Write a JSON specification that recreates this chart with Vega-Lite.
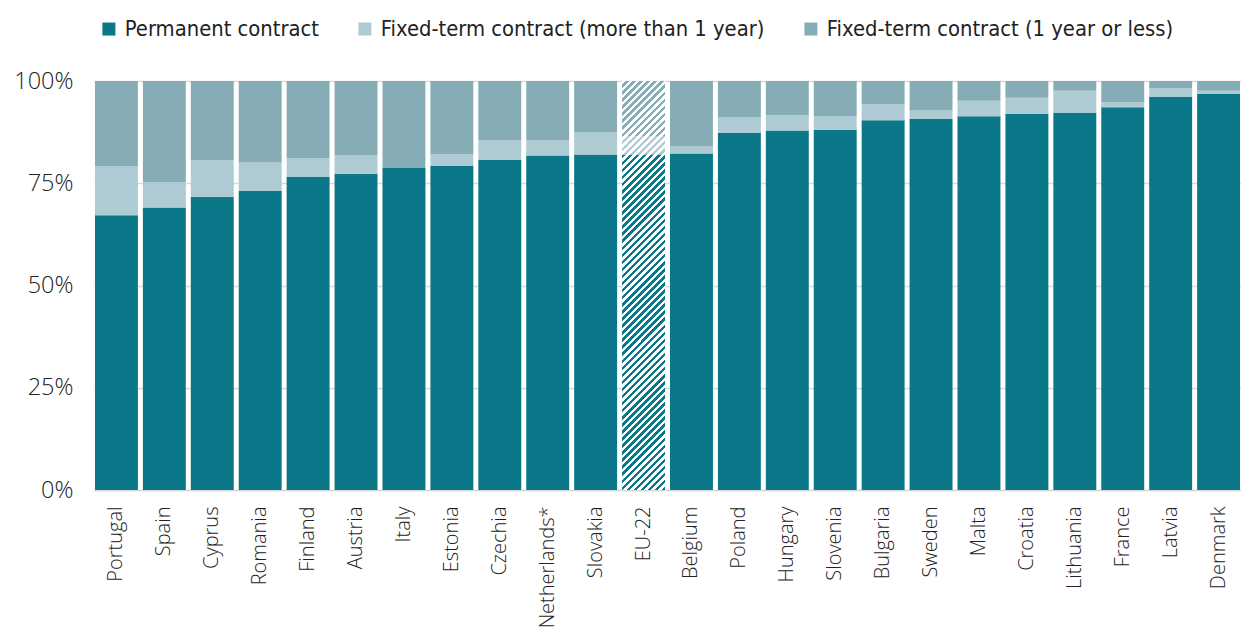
{
  "$schema": "https://vega.github.io/schema/vega-lite/v6.json",
  "width": 1147,
  "height": 409,
  "autosize": {"type": "none"},
  "padding": {"left": 94, "top": 81, "right": 0, "bottom": 140},
  "background": "#ffffff",
  "config": {
    "view": {"stroke": null},
    "font": "Open Sans"
  },
  "data": {
    "values": [
      {"country": "Portugal", "Permanent contract": 67.2, "Fixed-term contract (more than 1 year)": 12.0, "Fixed-term contract (1 year or less)": 20.8},
      {"country": "Spain", "Permanent contract": 69.1, "Fixed-term contract (more than 1 year)": 6.2, "Fixed-term contract (1 year or less)": 24.7},
      {"country": "Cyprus", "Permanent contract": 71.7, "Fixed-term contract (more than 1 year)": 8.9, "Fixed-term contract (1 year or less)": 19.4},
      {"country": "Romania", "Permanent contract": 73.1, "Fixed-term contract (more than 1 year)": 7.0, "Fixed-term contract (1 year or less)": 19.9},
      {"country": "Finland", "Permanent contract": 76.5, "Fixed-term contract (more than 1 year)": 4.6, "Fixed-term contract (1 year or less)": 18.9},
      {"country": "Austria", "Permanent contract": 77.3, "Fixed-term contract (more than 1 year)": 4.5, "Fixed-term contract (1 year or less)": 18.2},
      {"country": "Italy", "Permanent contract": 78.7, "Fixed-term contract (more than 1 year)": 0.0, "Fixed-term contract (1 year or less)": 21.3},
      {"country": "Estonia", "Permanent contract": 79.2, "Fixed-term contract (more than 1 year)": 2.9, "Fixed-term contract (1 year or less)": 17.9},
      {"country": "Czechia", "Permanent contract": 80.7, "Fixed-term contract (more than 1 year)": 4.8, "Fixed-term contract (1 year or less)": 14.5},
      {"country": "Netherlands*", "Permanent contract": 81.8, "Fixed-term contract (more than 1 year)": 3.7, "Fixed-term contract (1 year or less)": 14.5},
      {"country": "Slovakia", "Permanent contract": 82.0, "Fixed-term contract (more than 1 year)": 5.5, "Fixed-term contract (1 year or less)": 12.5},
      {"country": "EU-22", "Permanent contract": 82.0, "Fixed-term contract (more than 1 year)": 4.5, "Fixed-term contract (1 year or less)": 13.5},
      {"country": "Belgium", "Permanent contract": 82.3, "Fixed-term contract (more than 1 year)": 1.7, "Fixed-term contract (1 year or less)": 16.0},
      {"country": "Poland", "Permanent contract": 87.3, "Fixed-term contract (more than 1 year)": 3.8, "Fixed-term contract (1 year or less)": 8.9},
      {"country": "Hungary", "Permanent contract": 87.9, "Fixed-term contract (more than 1 year)": 3.7, "Fixed-term contract (1 year or less)": 8.4},
      {"country": "Slovenia", "Permanent contract": 88.0, "Fixed-term contract (more than 1 year)": 3.4, "Fixed-term contract (1 year or less)": 8.6},
      {"country": "Bulgaria", "Permanent contract": 90.4, "Fixed-term contract (more than 1 year)": 4.0, "Fixed-term contract (1 year or less)": 5.6},
      {"country": "Sweden", "Permanent contract": 90.7, "Fixed-term contract (more than 1 year)": 2.1, "Fixed-term contract (1 year or less)": 7.2},
      {"country": "Malta", "Permanent contract": 91.4, "Fixed-term contract (more than 1 year)": 3.8, "Fixed-term contract (1 year or less)": 4.8},
      {"country": "Croatia", "Permanent contract": 92.0, "Fixed-term contract (more than 1 year)": 3.9, "Fixed-term contract (1 year or less)": 4.1},
      {"country": "Lithuania", "Permanent contract": 92.2, "Fixed-term contract (more than 1 year)": 5.4, "Fixed-term contract (1 year or less)": 2.4},
      {"country": "France", "Permanent contract": 93.6, "Fixed-term contract (more than 1 year)": 1.2, "Fixed-term contract (1 year or less)": 5.2},
      {"country": "Latvia", "Permanent contract": 96.1, "Fixed-term contract (more than 1 year)": 2.2, "Fixed-term contract (1 year or less)": 1.7},
      {"country": "Denmark", "Permanent contract": 96.8, "Fixed-term contract (more than 1 year)": 0.8, "Fixed-term contract (1 year or less)": 2.4}
    ]
  },
  "transform": [
    {"fold": ["Permanent contract", "Fixed-term contract (more than 1 year)", "Fixed-term contract (1 year or less)"], "as": ["type", "value"]}
  ],
  "encoding": {
    "x": {
      "field": "country",
      "type": "nominal",
      "sort": null,
      "scale": {"paddingInner": 0.104, "paddingOuter": 0.02},
      "axis": {
        "title": null,
        "labelAngle": -90,
        "ticks": false,
        "domain": true,
        "domainColor": "#d9d9d9",
        "domainWidth": 1.5,
        "labelPadding": 16,
        "labelFont": "Open Sans",
        "labelFontWeight": 300,
        "labelFontSize": 20,
        "labelColor": "#222222"
      }
    }
  },
  "layer": [
    {
      "mark": {"type": "bar", "opacity": 1},
      "encoding": {
        "y": {
          "field": "value",
          "type": "quantitative",
          "stack": "zero",
          "scale": {"domain": [0, 100], "nice": false},
          "axis": {
            "title": null,
            "values": [0, 25, 50, 75, 100],
            "labelExpr": "datum.value + '%'",
            "domain": false,
            "ticks": false,
            "grid": true,
            "gridColor": "#d9d9d9",
            "gridWidth": 1.5,
            "labelPadding": 21,
            "labelFont": "Open Sans",
            "labelFontWeight": 300,
            "labelFontSize": 23.5,
            "labelColor": "#222222"
          }
        },
        "color": {
          "field": "type",
          "type": "nominal",
          "scale": {
            "domain": ["Permanent contract", "Fixed-term contract (more than 1 year)", "Fixed-term contract (1 year or less)"],
            "range": ["#0a7888", "#aecbd3", "#86acb6"]
          },
          "legend": {
            "title": null,
            "orient": "none",
            "legendX": 4,
            "legendY": -63,
            "direction": "horizontal",
            "columns": 3,
            "columnPadding": 35,
            "symbolType": "square",
            "symbolSize": 169,
            "symbolStrokeWidth": 0,
            "symbolOpacity": 1,
            "labelOffset": 5,
            "labelLimit": 600,
            "labelFont": "DejaVu Sans Condensed",
            "labelFontSize": 21.8,
            "labelColor": "#222222"
          }
        },
        "order": {"field": "type", "sort": "descending"}
      }
    },
    {
      "transform": [{"filter": "datum.country === 'EU-22'"}],
      "mark": {
        "type": "bar",
        "opacity": 1,
        "fill": {
          "gradient": "linear",
          "x1": 0, "y1": 0, "x2": 0.11475, "y2": 1.09293,
          "stops": [
            {"offset": 0, "color": "#ffffff"},
            {"offset": 0.00781, "color": "#ffffff"}, {"offset": 0.00781, "color": "rgba(255,255,255,0)"},
            {"offset": 0.01563, "color": "rgba(255,255,255,0)"}, {"offset": 0.01563, "color": "#ffffff"},
            {"offset": 0.02344, "color": "#ffffff"}, {"offset": 0.02344, "color": "rgba(255,255,255,0)"},
            {"offset": 0.03125, "color": "rgba(255,255,255,0)"}, {"offset": 0.03125, "color": "#ffffff"},
            {"offset": 0.03906, "color": "#ffffff"}, {"offset": 0.03906, "color": "rgba(255,255,255,0)"},
            {"offset": 0.04688, "color": "rgba(255,255,255,0)"}, {"offset": 0.04688, "color": "#ffffff"},
            {"offset": 0.05469, "color": "#ffffff"}, {"offset": 0.05469, "color": "rgba(255,255,255,0)"},
            {"offset": 0.0625, "color": "rgba(255,255,255,0)"}, {"offset": 0.0625, "color": "#ffffff"},
            {"offset": 0.07031, "color": "#ffffff"}, {"offset": 0.07031, "color": "rgba(255,255,255,0)"},
            {"offset": 0.07813, "color": "rgba(255,255,255,0)"}, {"offset": 0.07813, "color": "#ffffff"},
            {"offset": 0.08594, "color": "#ffffff"}, {"offset": 0.08594, "color": "rgba(255,255,255,0)"},
            {"offset": 0.09375, "color": "rgba(255,255,255,0)"}, {"offset": 0.09375, "color": "#ffffff"},
            {"offset": 0.10156, "color": "#ffffff"}, {"offset": 0.10156, "color": "rgba(255,255,255,0)"},
            {"offset": 0.10938, "color": "rgba(255,255,255,0)"}, {"offset": 0.10938, "color": "#ffffff"},
            {"offset": 0.11719, "color": "#ffffff"}, {"offset": 0.11719, "color": "rgba(255,255,255,0)"},
            {"offset": 0.125, "color": "rgba(255,255,255,0)"}, {"offset": 0.125, "color": "#ffffff"},
            {"offset": 0.13281, "color": "#ffffff"}, {"offset": 0.13281, "color": "rgba(255,255,255,0)"},
            {"offset": 0.14063, "color": "rgba(255,255,255,0)"}, {"offset": 0.14063, "color": "#ffffff"},
            {"offset": 0.14844, "color": "#ffffff"}, {"offset": 0.14844, "color": "rgba(255,255,255,0)"},
            {"offset": 0.15625, "color": "rgba(255,255,255,0)"}, {"offset": 0.15625, "color": "#ffffff"},
            {"offset": 0.16406, "color": "#ffffff"}, {"offset": 0.16406, "color": "rgba(255,255,255,0)"},
            {"offset": 0.17188, "color": "rgba(255,255,255,0)"}, {"offset": 0.17188, "color": "#ffffff"},
            {"offset": 0.17969, "color": "#ffffff"}, {"offset": 0.17969, "color": "rgba(255,255,255,0)"},
            {"offset": 0.1875, "color": "rgba(255,255,255,0)"}, {"offset": 0.1875, "color": "#ffffff"},
            {"offset": 0.19531, "color": "#ffffff"}, {"offset": 0.19531, "color": "rgba(255,255,255,0)"},
            {"offset": 0.20313, "color": "rgba(255,255,255,0)"}, {"offset": 0.20313, "color": "#ffffff"},
            {"offset": 0.21094, "color": "#ffffff"}, {"offset": 0.21094, "color": "rgba(255,255,255,0)"},
            {"offset": 0.21875, "color": "rgba(255,255,255,0)"}, {"offset": 0.21875, "color": "#ffffff"},
            {"offset": 0.22656, "color": "#ffffff"}, {"offset": 0.22656, "color": "rgba(255,255,255,0)"},
            {"offset": 0.23438, "color": "rgba(255,255,255,0)"}, {"offset": 0.23438, "color": "#ffffff"},
            {"offset": 0.24219, "color": "#ffffff"}, {"offset": 0.24219, "color": "rgba(255,255,255,0)"},
            {"offset": 0.25, "color": "rgba(255,255,255,0)"}, {"offset": 0.25, "color": "#ffffff"},
            {"offset": 0.25781, "color": "#ffffff"}, {"offset": 0.25781, "color": "rgba(255,255,255,0)"},
            {"offset": 0.26563, "color": "rgba(255,255,255,0)"}, {"offset": 0.26563, "color": "#ffffff"},
            {"offset": 0.27344, "color": "#ffffff"}, {"offset": 0.27344, "color": "rgba(255,255,255,0)"},
            {"offset": 0.28125, "color": "rgba(255,255,255,0)"}, {"offset": 0.28125, "color": "#ffffff"},
            {"offset": 0.28906, "color": "#ffffff"}, {"offset": 0.28906, "color": "rgba(255,255,255,0)"},
            {"offset": 0.29688, "color": "rgba(255,255,255,0)"}, {"offset": 0.29688, "color": "#ffffff"},
            {"offset": 0.30469, "color": "#ffffff"}, {"offset": 0.30469, "color": "rgba(255,255,255,0)"},
            {"offset": 0.3125, "color": "rgba(255,255,255,0)"}, {"offset": 0.3125, "color": "#ffffff"},
            {"offset": 0.32031, "color": "#ffffff"}, {"offset": 0.32031, "color": "rgba(255,255,255,0)"},
            {"offset": 0.32813, "color": "rgba(255,255,255,0)"}, {"offset": 0.32813, "color": "#ffffff"},
            {"offset": 0.33594, "color": "#ffffff"}, {"offset": 0.33594, "color": "rgba(255,255,255,0)"},
            {"offset": 0.34375, "color": "rgba(255,255,255,0)"}, {"offset": 0.34375, "color": "#ffffff"},
            {"offset": 0.35156, "color": "#ffffff"}, {"offset": 0.35156, "color": "rgba(255,255,255,0)"},
            {"offset": 0.35938, "color": "rgba(255,255,255,0)"}, {"offset": 0.35938, "color": "#ffffff"},
            {"offset": 0.36719, "color": "#ffffff"}, {"offset": 0.36719, "color": "rgba(255,255,255,0)"},
            {"offset": 0.375, "color": "rgba(255,255,255,0)"}, {"offset": 0.375, "color": "#ffffff"},
            {"offset": 0.38281, "color": "#ffffff"}, {"offset": 0.38281, "color": "rgba(255,255,255,0)"},
            {"offset": 0.39063, "color": "rgba(255,255,255,0)"}, {"offset": 0.39063, "color": "#ffffff"},
            {"offset": 0.39844, "color": "#ffffff"}, {"offset": 0.39844, "color": "rgba(255,255,255,0)"},
            {"offset": 0.40625, "color": "rgba(255,255,255,0)"}, {"offset": 0.40625, "color": "#ffffff"},
            {"offset": 0.41406, "color": "#ffffff"}, {"offset": 0.41406, "color": "rgba(255,255,255,0)"},
            {"offset": 0.42188, "color": "rgba(255,255,255,0)"}, {"offset": 0.42188, "color": "#ffffff"},
            {"offset": 0.42969, "color": "#ffffff"}, {"offset": 0.42969, "color": "rgba(255,255,255,0)"},
            {"offset": 0.4375, "color": "rgba(255,255,255,0)"}, {"offset": 0.4375, "color": "#ffffff"},
            {"offset": 0.44531, "color": "#ffffff"}, {"offset": 0.44531, "color": "rgba(255,255,255,0)"},
            {"offset": 0.45313, "color": "rgba(255,255,255,0)"}, {"offset": 0.45313, "color": "#ffffff"},
            {"offset": 0.46094, "color": "#ffffff"}, {"offset": 0.46094, "color": "rgba(255,255,255,0)"},
            {"offset": 0.46875, "color": "rgba(255,255,255,0)"}, {"offset": 0.46875, "color": "#ffffff"},
            {"offset": 0.47656, "color": "#ffffff"}, {"offset": 0.47656, "color": "rgba(255,255,255,0)"},
            {"offset": 0.48438, "color": "rgba(255,255,255,0)"}, {"offset": 0.48438, "color": "#ffffff"},
            {"offset": 0.49219, "color": "#ffffff"}, {"offset": 0.49219, "color": "rgba(255,255,255,0)"},
            {"offset": 0.5, "color": "rgba(255,255,255,0)"}, {"offset": 0.5, "color": "#ffffff"},
            {"offset": 0.50781, "color": "#ffffff"}, {"offset": 0.50781, "color": "rgba(255,255,255,0)"},
            {"offset": 0.51563, "color": "rgba(255,255,255,0)"}, {"offset": 0.51563, "color": "#ffffff"},
            {"offset": 0.52344, "color": "#ffffff"}, {"offset": 0.52344, "color": "rgba(255,255,255,0)"},
            {"offset": 0.53125, "color": "rgba(255,255,255,0)"}, {"offset": 0.53125, "color": "#ffffff"},
            {"offset": 0.53906, "color": "#ffffff"}, {"offset": 0.53906, "color": "rgba(255,255,255,0)"},
            {"offset": 0.54688, "color": "rgba(255,255,255,0)"}, {"offset": 0.54688, "color": "#ffffff"},
            {"offset": 0.55469, "color": "#ffffff"}, {"offset": 0.55469, "color": "rgba(255,255,255,0)"},
            {"offset": 0.5625, "color": "rgba(255,255,255,0)"}, {"offset": 0.5625, "color": "#ffffff"},
            {"offset": 0.57031, "color": "#ffffff"}, {"offset": 0.57031, "color": "rgba(255,255,255,0)"},
            {"offset": 0.57813, "color": "rgba(255,255,255,0)"}, {"offset": 0.57813, "color": "#ffffff"},
            {"offset": 0.58594, "color": "#ffffff"}, {"offset": 0.58594, "color": "rgba(255,255,255,0)"},
            {"offset": 0.59375, "color": "rgba(255,255,255,0)"}, {"offset": 0.59375, "color": "#ffffff"},
            {"offset": 0.60156, "color": "#ffffff"}, {"offset": 0.60156, "color": "rgba(255,255,255,0)"},
            {"offset": 0.60938, "color": "rgba(255,255,255,0)"}, {"offset": 0.60938, "color": "#ffffff"},
            {"offset": 0.61719, "color": "#ffffff"}, {"offset": 0.61719, "color": "rgba(255,255,255,0)"},
            {"offset": 0.625, "color": "rgba(255,255,255,0)"}, {"offset": 0.625, "color": "#ffffff"},
            {"offset": 0.63281, "color": "#ffffff"}, {"offset": 0.63281, "color": "rgba(255,255,255,0)"},
            {"offset": 0.64063, "color": "rgba(255,255,255,0)"}, {"offset": 0.64063, "color": "#ffffff"},
            {"offset": 0.64844, "color": "#ffffff"}, {"offset": 0.64844, "color": "rgba(255,255,255,0)"},
            {"offset": 0.65625, "color": "rgba(255,255,255,0)"}, {"offset": 0.65625, "color": "#ffffff"},
            {"offset": 0.66406, "color": "#ffffff"}, {"offset": 0.66406, "color": "rgba(255,255,255,0)"},
            {"offset": 0.67188, "color": "rgba(255,255,255,0)"}, {"offset": 0.67188, "color": "#ffffff"},
            {"offset": 0.67969, "color": "#ffffff"}, {"offset": 0.67969, "color": "rgba(255,255,255,0)"},
            {"offset": 0.6875, "color": "rgba(255,255,255,0)"}, {"offset": 0.6875, "color": "#ffffff"},
            {"offset": 0.69531, "color": "#ffffff"}, {"offset": 0.69531, "color": "rgba(255,255,255,0)"},
            {"offset": 0.70313, "color": "rgba(255,255,255,0)"}, {"offset": 0.70313, "color": "#ffffff"},
            {"offset": 0.71094, "color": "#ffffff"}, {"offset": 0.71094, "color": "rgba(255,255,255,0)"},
            {"offset": 0.71875, "color": "rgba(255,255,255,0)"}, {"offset": 0.71875, "color": "#ffffff"},
            {"offset": 0.72656, "color": "#ffffff"}, {"offset": 0.72656, "color": "rgba(255,255,255,0)"},
            {"offset": 0.73438, "color": "rgba(255,255,255,0)"}, {"offset": 0.73438, "color": "#ffffff"},
            {"offset": 0.74219, "color": "#ffffff"}, {"offset": 0.74219, "color": "rgba(255,255,255,0)"},
            {"offset": 0.75, "color": "rgba(255,255,255,0)"}, {"offset": 0.75, "color": "#ffffff"},
            {"offset": 0.75781, "color": "#ffffff"}, {"offset": 0.75781, "color": "rgba(255,255,255,0)"},
            {"offset": 0.76563, "color": "rgba(255,255,255,0)"}, {"offset": 0.76563, "color": "#ffffff"},
            {"offset": 0.77344, "color": "#ffffff"}, {"offset": 0.77344, "color": "rgba(255,255,255,0)"},
            {"offset": 0.78125, "color": "rgba(255,255,255,0)"}, {"offset": 0.78125, "color": "#ffffff"},
            {"offset": 0.78906, "color": "#ffffff"}, {"offset": 0.78906, "color": "rgba(255,255,255,0)"},
            {"offset": 0.79688, "color": "rgba(255,255,255,0)"}, {"offset": 0.79688, "color": "#ffffff"},
            {"offset": 0.80469, "color": "#ffffff"}, {"offset": 0.80469, "color": "rgba(255,255,255,0)"},
            {"offset": 0.8125, "color": "rgba(255,255,255,0)"}, {"offset": 0.8125, "color": "#ffffff"},
            {"offset": 0.82031, "color": "#ffffff"}, {"offset": 0.82031, "color": "rgba(255,255,255,0)"},
            {"offset": 0.82813, "color": "rgba(255,255,255,0)"}, {"offset": 0.82813, "color": "#ffffff"},
            {"offset": 0.83594, "color": "#ffffff"}, {"offset": 0.83594, "color": "rgba(255,255,255,0)"},
            {"offset": 0.84375, "color": "rgba(255,255,255,0)"}, {"offset": 0.84375, "color": "#ffffff"},
            {"offset": 0.85156, "color": "#ffffff"}, {"offset": 0.85156, "color": "rgba(255,255,255,0)"},
            {"offset": 0.85938, "color": "rgba(255,255,255,0)"}, {"offset": 0.85938, "color": "#ffffff"},
            {"offset": 0.86719, "color": "#ffffff"}, {"offset": 0.86719, "color": "rgba(255,255,255,0)"},
            {"offset": 0.875, "color": "rgba(255,255,255,0)"}, {"offset": 0.875, "color": "#ffffff"},
            {"offset": 0.88281, "color": "#ffffff"}, {"offset": 0.88281, "color": "rgba(255,255,255,0)"},
            {"offset": 0.89063, "color": "rgba(255,255,255,0)"}, {"offset": 0.89063, "color": "#ffffff"},
            {"offset": 0.89844, "color": "#ffffff"}, {"offset": 0.89844, "color": "rgba(255,255,255,0)"},
            {"offset": 0.90625, "color": "rgba(255,255,255,0)"}, {"offset": 0.90625, "color": "#ffffff"},
            {"offset": 0.91406, "color": "#ffffff"}, {"offset": 0.91406, "color": "rgba(255,255,255,0)"},
            {"offset": 0.92188, "color": "rgba(255,255,255,0)"}, {"offset": 0.92188, "color": "#ffffff"},
            {"offset": 0.92969, "color": "#ffffff"}, {"offset": 0.92969, "color": "rgba(255,255,255,0)"},
            {"offset": 0.9375, "color": "rgba(255,255,255,0)"}, {"offset": 0.9375, "color": "#ffffff"},
            {"offset": 0.94531, "color": "#ffffff"}, {"offset": 0.94531, "color": "rgba(255,255,255,0)"},
            {"offset": 0.95313, "color": "rgba(255,255,255,0)"}, {"offset": 0.95313, "color": "#ffffff"},
            {"offset": 0.96094, "color": "#ffffff"}, {"offset": 0.96094, "color": "rgba(255,255,255,0)"},
            {"offset": 0.96875, "color": "rgba(255,255,255,0)"}, {"offset": 0.96875, "color": "#ffffff"},
            {"offset": 0.97656, "color": "#ffffff"}, {"offset": 0.97656, "color": "rgba(255,255,255,0)"},
            {"offset": 0.98438, "color": "rgba(255,255,255,0)"}, {"offset": 0.98438, "color": "#ffffff"},
            {"offset": 0.99219, "color": "#ffffff"}, {"offset": 0.99219, "color": "rgba(255,255,255,0)"},
            {"offset": 1, "color": "rgba(255,255,255,0)"}
          ]
        }
      },
      "encoding": {
        "y": {
          "aggregate": "sum",
          "field": "value",
          "type": "quantitative",
          "axis": {
            "title": null,
            "values": [0, 25, 50, 75, 100],
            "labelExpr": "datum.value + '%'",
            "domain": false,
            "ticks": false,
            "grid": true,
            "gridColor": "#d9d9d9",
            "gridWidth": 1.5,
            "labelPadding": 21,
            "labelFont": "Open Sans",
            "labelFontWeight": 300,
            "labelFontSize": 23.5,
            "labelColor": "#222222"
          }
        }
      }
    }
  ]
}
